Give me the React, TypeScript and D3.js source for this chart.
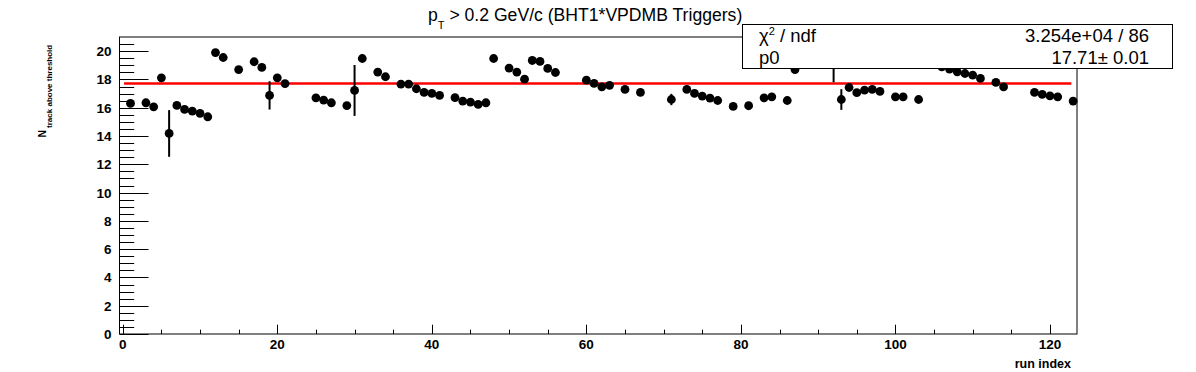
import React, { useEffect, useRef } from 'react';
import * as d3 from 'd3';

// run index of each filled bin
const runIndex = [
  1, 3, 4, 5, 6, 7, 8, 9, 10, 11, 12, 13, 15, 17, 18, 19, 20, 21, 25, 26, 27, 29, 30, 31,
  33, 34, 36, 37, 38, 39, 40, 41, 43, 44, 45, 46, 47, 48, 50, 51, 52, 53, 54, 55, 56,
  60, 61, 62, 63, 65, 67, 71, 73, 74, 75, 76, 77, 79, 81, 83, 84, 86, 87, 92, 93, 94,
  95, 96, 97, 98, 100, 101, 103, 106, 107, 108, 109, 110, 111, 113, 114, 118, 119, 120,
  121, 123,
];

// mean N_track above threshold per run
const nTrack = [
  16.3, 16.35, 16.06, 18.11, 14.18, 16.16, 15.88, 15.76, 15.6, 15.36, 19.9, 19.55, 18.7,
  19.25, 18.85, 16.87, 18.11, 17.71, 16.7, 16.54, 16.35, 16.15, 17.22, 19.48, 18.52,
  18.19, 17.67, 17.67, 17.34, 17.08, 17.01, 16.87, 16.72, 16.47, 16.4, 16.23, 16.35,
  19.48, 18.8, 18.52, 18.02, 19.34, 19.27, 18.78, 18.49, 17.95, 17.72, 17.48, 17.58,
  17.29, 17.08, 16.58, 17.29, 17.01, 16.82, 16.68, 16.51, 16.09, 16.14, 16.7, 16.77,
  16.51, 18.7, 19.2, 16.58, 17.43, 17.06, 17.24, 17.29, 17.15, 16.77, 16.77, 16.58,
  18.89, 18.73, 18.54, 18.42, 18.3, 18.07, 17.79, 17.48, 17.08, 16.94, 16.84, 16.77,
  16.47,
];

// statistical errors that are visible outside the markers (run index -> error)
const errRuns = [6, 19, 30, 71, 92, 93];
const errValues = [1.65, 1.0, 1.8, 0.4, 1.4, 0.73];

// constant fit
const fitP0 = 17.71;
const fitRange = [0.17, 122.77];

const yMajorTicks = [0, 2, 4, 6, 8, 10, 12, 14, 16, 18, 20];
const xMajorTicks = [0, 20, 40, 60, 80, 100, 120];

const statLabels = ['ndf', 'p0'];
const statValues = ['3.254e+04 / 86', '17.71\u00b1 0.01'];

const W = 1196;
const H = 372;
const FONT = "'Liberation Sans', Arial, Helvetica, sans-serif";

const App: React.FC = () => {
  const svgRef = useRef<SVGSVGElement>(null);

  useEffect(() => {
    if (!svgRef.current) return;
    const svg = d3.select(svgRef.current);
    svg.selectAll('*').remove();

    const left = 119.5, right = 1077, top = 37, bottom = 334;

    const x = d3.scaleLinear().domain([-0.5, 123.5]).range([left - 0.6, right]);
    const y = d3.scaleLinear().domain([0, 21]).range([bottom, top]);

    svg.append('rect').attr('width', W).attr('height', H).attr('fill', '#fff');

    // --- frame ---
    svg.append('rect')
      .attr('x', left).attr('y', top)
      .attr('width', right - left).attr('height', bottom - top)
      .attr('fill', 'none').attr('stroke', '#000').attr('stroke-width', 1);

    // --- y axis ticks ---
    const yMinor = d3.range(0, 21.01, 0.5).filter((v) => !yMajorTicks.includes(v) && v <= 20.5);
    const yTicks = svg.append('g');
    yMinor.forEach((v) => {
      yTicks.append('line')
        .attr('x1', left).attr('x2', left + 14.7)
        .attr('y1', Math.round(y(v)) + 0.5).attr('y2', Math.round(y(v)) + 0.5)
        .attr('stroke', '#000');
    });
    yMajorTicks.forEach((v) => {
      yTicks.append('line')
        .attr('x1', left).attr('x2', left + 29)
        .attr('y1', Math.round(y(v)) + 0.5).attr('y2', Math.round(y(v)) + 0.5)
        .attr('stroke', '#000');
      yTicks.append('text')
        .attr('x', 111.5).attr('y', y(v) + 5)
        .attr('text-anchor', 'end')
        .attr('font-family', FONT).attr('font-weight', 'bold').attr('font-size', 13.5)
        .text(v);
    });

    // --- x axis ticks ---
    const xMinor = d3.range(5, 123, 5).filter((v) => !xMajorTicks.includes(v));
    const xTicks = svg.append('g');
    xMinor.forEach((v) => {
      xTicks.append('line')
        .attr('x1', Math.round(x(v)) + 0.5).attr('x2', Math.round(x(v)) + 0.5)
        .attr('y1', bottom).attr('y2', bottom - 4.3)
        .attr('stroke', '#000');
    });
    xMajorTicks.forEach((v) => {
      xTicks.append('line')
        .attr('x1', Math.round(x(v)) + 0.5).attr('x2', Math.round(x(v)) + 0.5)
        .attr('y1', bottom).attr('y2', bottom - 9.3)
        .attr('stroke', '#000');
      xTicks.append('text')
        .attr('x', x(v)).attr('y', 349)
        .attr('text-anchor', 'middle')
        .attr('font-family', FONT).attr('font-weight', 'bold').attr('font-size', 13.5)
        .text(v);
    });

    // --- axis titles ---
    svg.append('text')
      .attr('x', 1071).attr('y', 368)
      .attr('text-anchor', 'end')
      .attr('font-family', FONT).attr('font-weight', 'bold').attr('font-size', 12.5)
      .text('run index');

    const yTitle = svg.append('text')
      .attr('transform', 'translate(45.7,137.5) rotate(-90)')
      .attr('font-family', FONT).attr('font-weight', 'bold');
    yTitle.append('tspan').attr('font-size', 10.5).text('N');
    yTitle.append('tspan').attr('font-size', 8).attr('dx', 2).attr('dy', 5.8)
      .text('track above threshold');

    // --- fit line ---
    svg.append('line')
      .attr('x1', x(fitRange[0])).attr('x2', x(fitRange[1]))
      .attr('y1', y(fitP0)).attr('y2', y(fitP0))
      .attr('stroke', '#ff0000').attr('stroke-width', 2.6);

    // --- data points ---
    const points = runIndex.map((r, i) => {
      const k = errRuns.indexOf(r);
      return { r, v: nTrack[i], e: k >= 0 ? errValues[k] : 0 };
    });
    const g = svg.append('g');
    points.filter((p) => p.e > 0).forEach((p) => {
      g.append('line')
        .attr('x1', x(p.r)).attr('x2', x(p.r))
        .attr('y1', y(p.v - p.e)).attr('y2', y(p.v + p.e))
        .attr('stroke', '#000').attr('stroke-width', 2);
    });
    g.selectAll('circle.pt')
      .data(points)
      .join('circle')
      .attr('class', 'pt')
      .attr('cx', (d) => x(d.r))
      .attr('cy', (d) => y(d.v))
      .attr('r', 4.4)
      .attr('fill', '#000');

    // --- title ---
    const title = svg.append('text')
      .attr('x', 428).attr('y', 20.5)
      .attr('font-family', FONT).attr('font-size', 17.6);
    title.append('tspan').text('p');
    title.append('tspan').attr('font-size', 11).attr('dy', 8.5).text('T');
    title.append('tspan').attr('dy', -8.5).text(' > 0.2 GeV/c (BHT1*VPDMB Triggers)');

    // --- stats box ---
    const box = svg.append('g');
    box.append('rect')
      .attr('x', 742.5).attr('y', 24.5).attr('width', 430).attr('height', 44)
      .attr('fill', '#fff').attr('stroke', '#000').attr('stroke-width', 1);
    const rowY = [41.7, 64];
    const chi = box.append('text')
      .attr('x', 759).attr('y', rowY[0])
      .attr('font-family', FONT).attr('font-size', 18.5);
    chi.append('tspan').text('\u03c7');
    chi.append('tspan').attr('font-size', 11).attr('dy', -7).text('2');
    chi.append('tspan').attr('dy', 7).text(' / ' + statLabels[0]);
    box.append('text')
      .attr('x', 759).attr('y', rowY[1])
      .attr('font-family', FONT).attr('font-size', 18.5)
      .text(statLabels[1]);
    statValues.forEach((s, i) => {
      box.append('text')
        .attr('x', 1149).attr('y', rowY[i])
        .attr('text-anchor', 'end')
        .attr('font-family', FONT).attr('font-size', 18.5)
        .text(s);
    });
  }, []);

  return (
    <svg
      ref={svgRef}
      width={W}
      height={H}
      style={{ position: 'absolute', left: 0, top: 0, display: 'block' }}
    />
  );
};

export default App;
